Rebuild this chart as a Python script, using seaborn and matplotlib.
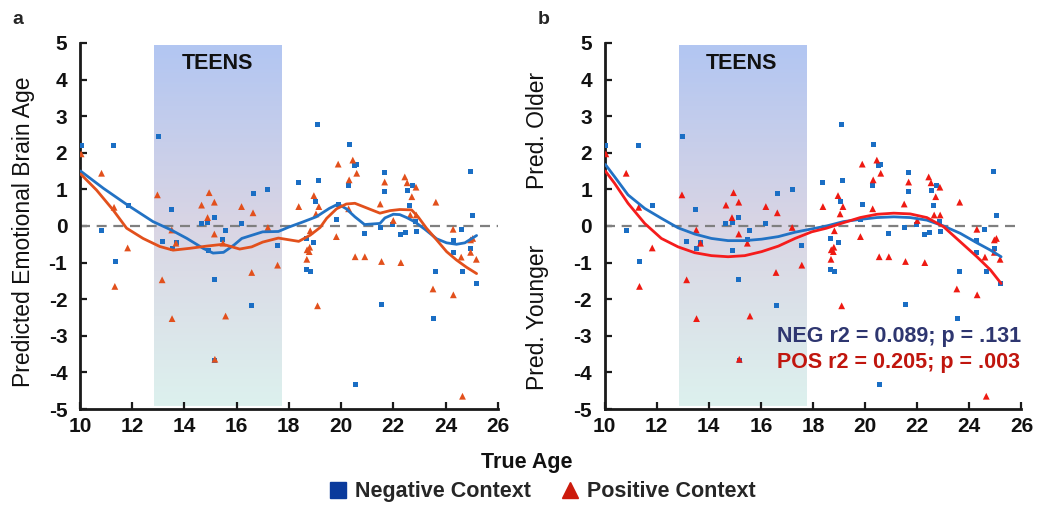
import numpy as np
import pandas as pd
import matplotlib
matplotlib.use("Agg")
import matplotlib.pyplot as plt
import matplotlib.transforms as mtransforms
from matplotlib.colors import LinearSegmentedColormap
from matplotlib.lines import Line2D
import seaborn as sns

# ---------------- data ----------------
neg_age = [10.05, 11.3, 13.0, 11.85, 10.83, 11.35, 13.5, 13.15, 13.53, 13.7,
           14.65, 14.9, 15.15, 15.57, 15.48, 14.92, 15.15, 16.19, 16.63, 17.2,
           17.57, 18.38, 19.1, 19.15, 19.04, 18.66, 18.96, 18.69, 18.82, 16.58,
           15.17, 20.31, 20.5, 20.6, 20.29, 21.68, 21.68, 19.89, 19.83, 20.91,
           21.5, 21.98, 22.29, 22.46, 22.73, 22.54, 22.62, 22.85, 22.88, 24.94,
           25.03, 24.6, 24.29, 24.29, 24.96, 23.63, 24.65, 25.18, 21.55, 20.54,
           23.53]
neg_pred = [2.2, 2.2, 2.45, 0.57, -0.12, -0.97, 0.44, -0.43, -0.61, -0.45,
            0.07, 0.09, 0.23, -0.13, -0.36, -0.67, -1.47, 0.07, 0.89, 1.01,
            -0.54, 1.19, 2.78, 1.25, 0.66, -0.34, -0.45, -1.18, -1.23, -2.18,
            -3.68, 2.23, 1.64, 1.68, 1.1, 1.46, 0.95, 0.59, 0.19, -0.2,
            -0.05, 0.03, -0.23, -0.17, 1.11, 0.98, 0.55, 0.13, -0.14, 1.49,
            0.29, -0.1, -0.4, -0.73, -0.61, -1.25, -1.25, -1.57, -2.14, -4.33,
            -2.52]

pos_age = [10.05, 10.83, 11.31, 11.83, 11.34, 12.97, 13.52, 13.68, 13.15, 14.66,
           14.95, 15.15, 14.89, 15.15, 15.48, 16.19, 16.63, 17.2, 17.57, 16.58,
           13.53, 15.58, 15.17, 18.38, 18.96, 19.15, 19.04, 18.82, 18.7, 18.8,
           18.78, 18.69, 19.1, 19.89, 20.45, 20.6, 20.31, 20.29, 19.82, 20.54,
           20.91, 21.55, 22.29, 21.5, 21.67, 22.0, 22.44, 22.53, 22.87, 22.71,
           22.65, 22.88, 23.63, 24.29, 24.96, 25.04, 24.6, 24.96, 25.18, 23.52,
           24.3, 24.65]
pos_pred = [1.97, 1.44, 0.51, -0.6, -1.65, 0.85, -0.11, -0.47, -1.47, 0.57,
            0.91, 0.65, 0.23, -0.22, -0.47, 0.53, 0.36, -0.04, -1.07, -1.27,
            -2.53, -2.46, -3.64, 0.53, 0.83, 0.53, 0.33, -0.13, -0.65, -0.58,
            -0.7, -0.91, -2.18, 1.69, 1.8, 1.44, 1.26, 0.47, -0.29, -0.84,
            -0.84, -0.97, -1.0, 0.6, 1.2, 0.15, 1.34, 1.18, 1.06, 0.8,
            0.3, 0.3, 0.65, -0.09, -0.38, -0.34, -0.85, -0.72, -0.91, -1.72,
            -1.88, -4.65]

# smoothed fit lines (panel a)
a_neg_fit_x = [10.03, 10.9, 11.83, 12.8, 13.5, 14.1, 14.72, 15.1, 15.5, 15.9,
               16.2, 16.6, 17.0, 17.6, 18.0, 18.5, 19.05, 19.55, 19.89, 20.2,
               20.53, 20.9, 21.49, 21.68, 22.0, 22.25, 22.51, 22.83, 23.21,
               23.66, 24.04, 24.42, 24.74, 25.19]
a_neg_fit_y = [1.5, 1.03, 0.57, 0.12, -0.11, -0.34, -0.61, -0.74, -0.72, -0.52,
               -0.34, -0.25, -0.16, -0.15, -0.03, 0.1, 0.25, 0.48, 0.6, 0.47,
               0.25, 0.04, 0.07, 0.22, 0.32, 0.31, 0.23, 0.11, -0.09,
               -0.35, -0.46, -0.5, -0.46, -0.26]
a_pos_fit_x = [10.03, 10.64, 11.27, 11.79, 12.42, 13.06, 13.57, 14.21, 14.85,
               15.48, 16.12, 16.58, 17.0, 17.6, 18.38, 18.82, 19.2, 19.45,
               19.83, 20.2, 20.53, 20.85, 21.17, 21.49, 21.88, 22.25, 22.7,
               22.95, 23.27, 23.66, 24.04, 24.42, 24.81, 25.19]
a_pos_fit_y = [1.42, 0.98, 0.44, -0.06, -0.34, -0.56, -0.66, -0.61, -0.55,
               -0.5, -0.63, -0.57, -0.44, -0.33, -0.42, -0.25, -0.04, 0.21,
               0.47, 0.6, 0.62, 0.53, 0.44, 0.35, 0.42, 0.45, 0.44,
               0.25, -0.06, -0.38, -0.7, -0.93, -1.13, -1.3]

# cubic fit lines (panel b)
b_neg_fit_x = [10.03, 10.38, 10.9, 11.54, 12.18, 12.82, 13.46, 14.1, 14.74,
               15.38, 16.03, 16.67, 17.31, 17.95, 18.52, 19.17, 19.81, 20.45,
               21.1, 21.73, 22.37, 23.01, 23.65, 24.29, 24.81, 25.22]
b_neg_fit_y = [1.68, 1.35, 0.85, 0.48, 0.21, -0.05, -0.22, -0.34, -0.4,
               -0.4, -0.36, -0.29, -0.17, -0.08, 0.0, 0.12, 0.18, 0.23,
               0.25, 0.23, 0.16, 0.0, -0.2, -0.46, -0.66, -0.84]
b_pos_fit_x = [10.03, 10.38, 10.9, 11.54, 12.18, 12.82, 13.46, 14.1, 14.74,
               15.38, 16.03, 16.67, 17.31, 17.95, 18.52, 19.17, 19.81, 20.45,
               21.1, 21.73, 22.37, 23.01, 23.65, 24.29, 24.81, 25.22]
b_pos_fit_y = [1.5, 1.17, 0.62, 0.07, -0.34, -0.57, -0.73, -0.81, -0.84,
               -0.81, -0.7, -0.55, -0.34, -0.16, -0.06, 0.09, 0.23, 0.32,
               0.35, 0.33, 0.23, -0.02, -0.43, -0.84, -1.2, -1.57]

x_ticks = [10, 12, 14, 16, 18, 20, 22, 24, 26]
y_ticks = [5, 4, 3, 2, 1, 0, -1, -2, -3, -4, -5]
teen_range = [12.85, 17.75]
labels_ctx = ["Negative Context", "Positive Context"]
stats_text = ["NEG r2 = 0.089; p = .131", "POS r2 = 0.205; p = .003"]

# ---------------- style ----------------
sns.set_theme(style="ticks")
plt.rcParams['font.family'] = ['Liberation Sans', 'DejaVu Sans']
plt.rcParams['axes.unicode_minus'] = False

df = pd.DataFrame({
    "age": neg_age + pos_age,
    "pred": neg_pred + pos_pred,
    "context": ["Negative"] * len(neg_age) + ["Positive"] * len(pos_age),
})

fig = plt.figure(figsize=(10.37, 5.05), dpi=100)
ax_a = fig.add_axes([0.077, 0.190, 0.403, 0.725])
ax_b = fig.add_axes([0.583, 0.190, 0.402, 0.725])

band_cmap = LinearSegmentedColormap.from_list(
    "teen", [(0.0, "#ddf1ee"), (0.5, "#d9d5e4"), (1.0, "#b2c6f2")])
grad = np.linspace(0, 1, 256).reshape(-1, 1)

blue_pt = "#1a6ec4"
configs = [
    (ax_a, "#e2501c", "#2272c4", "#e2501c",
     (a_neg_fit_x, a_neg_fit_y), (a_pos_fit_x, a_pos_fit_y)),
    (ax_b, "#ee1a12", "#2272c4", "#f51c1c",
     (b_neg_fit_x, b_neg_fit_y), (b_pos_fit_x, b_pos_fit_y)),
]

for ax, red_pt, blue_ln, red_ln, negfit, posfit in configs:
    ax.imshow(grad, extent=[teen_range[0], teen_range[1], -4.92, 4.92],
              origin="lower", cmap=band_cmap, aspect="auto", zorder=0)
    ax.axhline(0, color="#7f7f7f", lw=1.6, ls=(0, (4.5, 3)), zorder=1)
    sns.scatterplot(data=df, x="age", y="pred", hue="context", style="context",
                    markers={"Negative": "s", "Positive": "^"},
                    palette={"Negative": blue_pt, "Positive": red_pt},
                    size="context", sizes={"Negative": 13, "Positive": 24},
                    linewidth=0, legend=False, ax=ax, zorder=3)
    sns.lineplot(x=negfit[0], y=negfit[1], color=blue_ln, lw=2.0, ax=ax, zorder=4)
    sns.lineplot(x=posfit[0], y=posfit[1], color=red_ln, lw=2.0, ax=ax, zorder=4)

    ax.set_xlim(10, 26)
    ax.set_ylim(-5, 5)
    ax.set_xticks(x_ticks)
    ax.set_yticks(y_ticks)
    ax.set_xticklabels([str(t) for t in x_ticks])
    ax.set_yticklabels([str(t) for t in y_ticks])
    ax.set_xlabel("")
    ax.set_ylabel("")
    for side in ["top", "right"]:
        ax.spines[side].set_visible(False)
    for side in ["left", "bottom"]:
        ax.spines[side].set_color("#1a1a1a")
        ax.spines[side].set_linewidth(2.0)
    ax.tick_params(axis="both", direction="in", length=5, width=1.6,
                   color="#1a1a1a", labelsize=15)
    ax.tick_params(axis="y", pad=9)
    ax.tick_params(axis="x", pad=6)
    for lab in ax.get_xticklabels() + ax.get_yticklabels():
        lab.set_fontweight("bold")
        lab.set_color("#111111")
    ax.set_facecolor("white")
    ax.text(15.25, 4.45, "TEENS", ha="center", va="center",
            fontsize=15.5, fontweight="bold", color="#111111", zorder=5)

# y labels
tr_a = mtransforms.blended_transform_factory(ax_a.transAxes, ax_a.transData)
ax_a.text(-0.136, -0.15, "Predicted Emotional Brain Age", transform=tr_a,
          rotation=90, ha="center", va="center", fontsize=16.5, color="#111111")
tr_b = mtransforms.blended_transform_factory(ax_b.transAxes, ax_b.transData)
ax_b.text(-0.161, 2.62, "Pred. Older", transform=tr_b, rotation=90,
          ha="center", va="center", fontsize=16.5, color="#111111")
ax_b.text(-0.161, -2.5, "Pred. Younger", transform=tr_b, rotation=90,
          ha="center", va="center", fontsize=16.5, color="#111111")

# stats
ax_b.text(16.6, -3.03, stats_text[0], ha="left", va="center", fontsize=15.5,
          fontweight="bold", color="#2e3670", zorder=6)
ax_b.text(16.6, -3.74, stats_text[1], ha="left", va="center", fontsize=15.5,
          fontweight="bold", color="#c0160e", zorder=6)

# panel letters
fig.text(0.012, 0.962, "a", fontsize=14, fontweight="bold", ha="left", va="center")
fig.text(0.519, 0.962, "b", fontsize=14, fontweight="bold", ha="left", va="center")

# x label
fig.text(0.508, 0.085, "True Age", ha="center", va="center",
         fontsize=15.5, fontweight="bold", color="#111111")

# legend
handles = [
    Line2D([], [], ls="none", marker="s", markersize=11, color="#0a3a9c"),
    Line2D([], [], ls="none", marker="^", markersize=12, color="#cc1a0c"),
]
fig.legend(handles, labels_ctx, loc="center", bbox_to_anchor=(0.522, 0.026),
           ncol=2, frameon=False, handletextpad=0.3, columnspacing=1.3,
           handlelength=1.0, prop={"size": 15.5, "weight": "bold"})

fig.savefig("out.png", dpi=100, facecolor="white")
